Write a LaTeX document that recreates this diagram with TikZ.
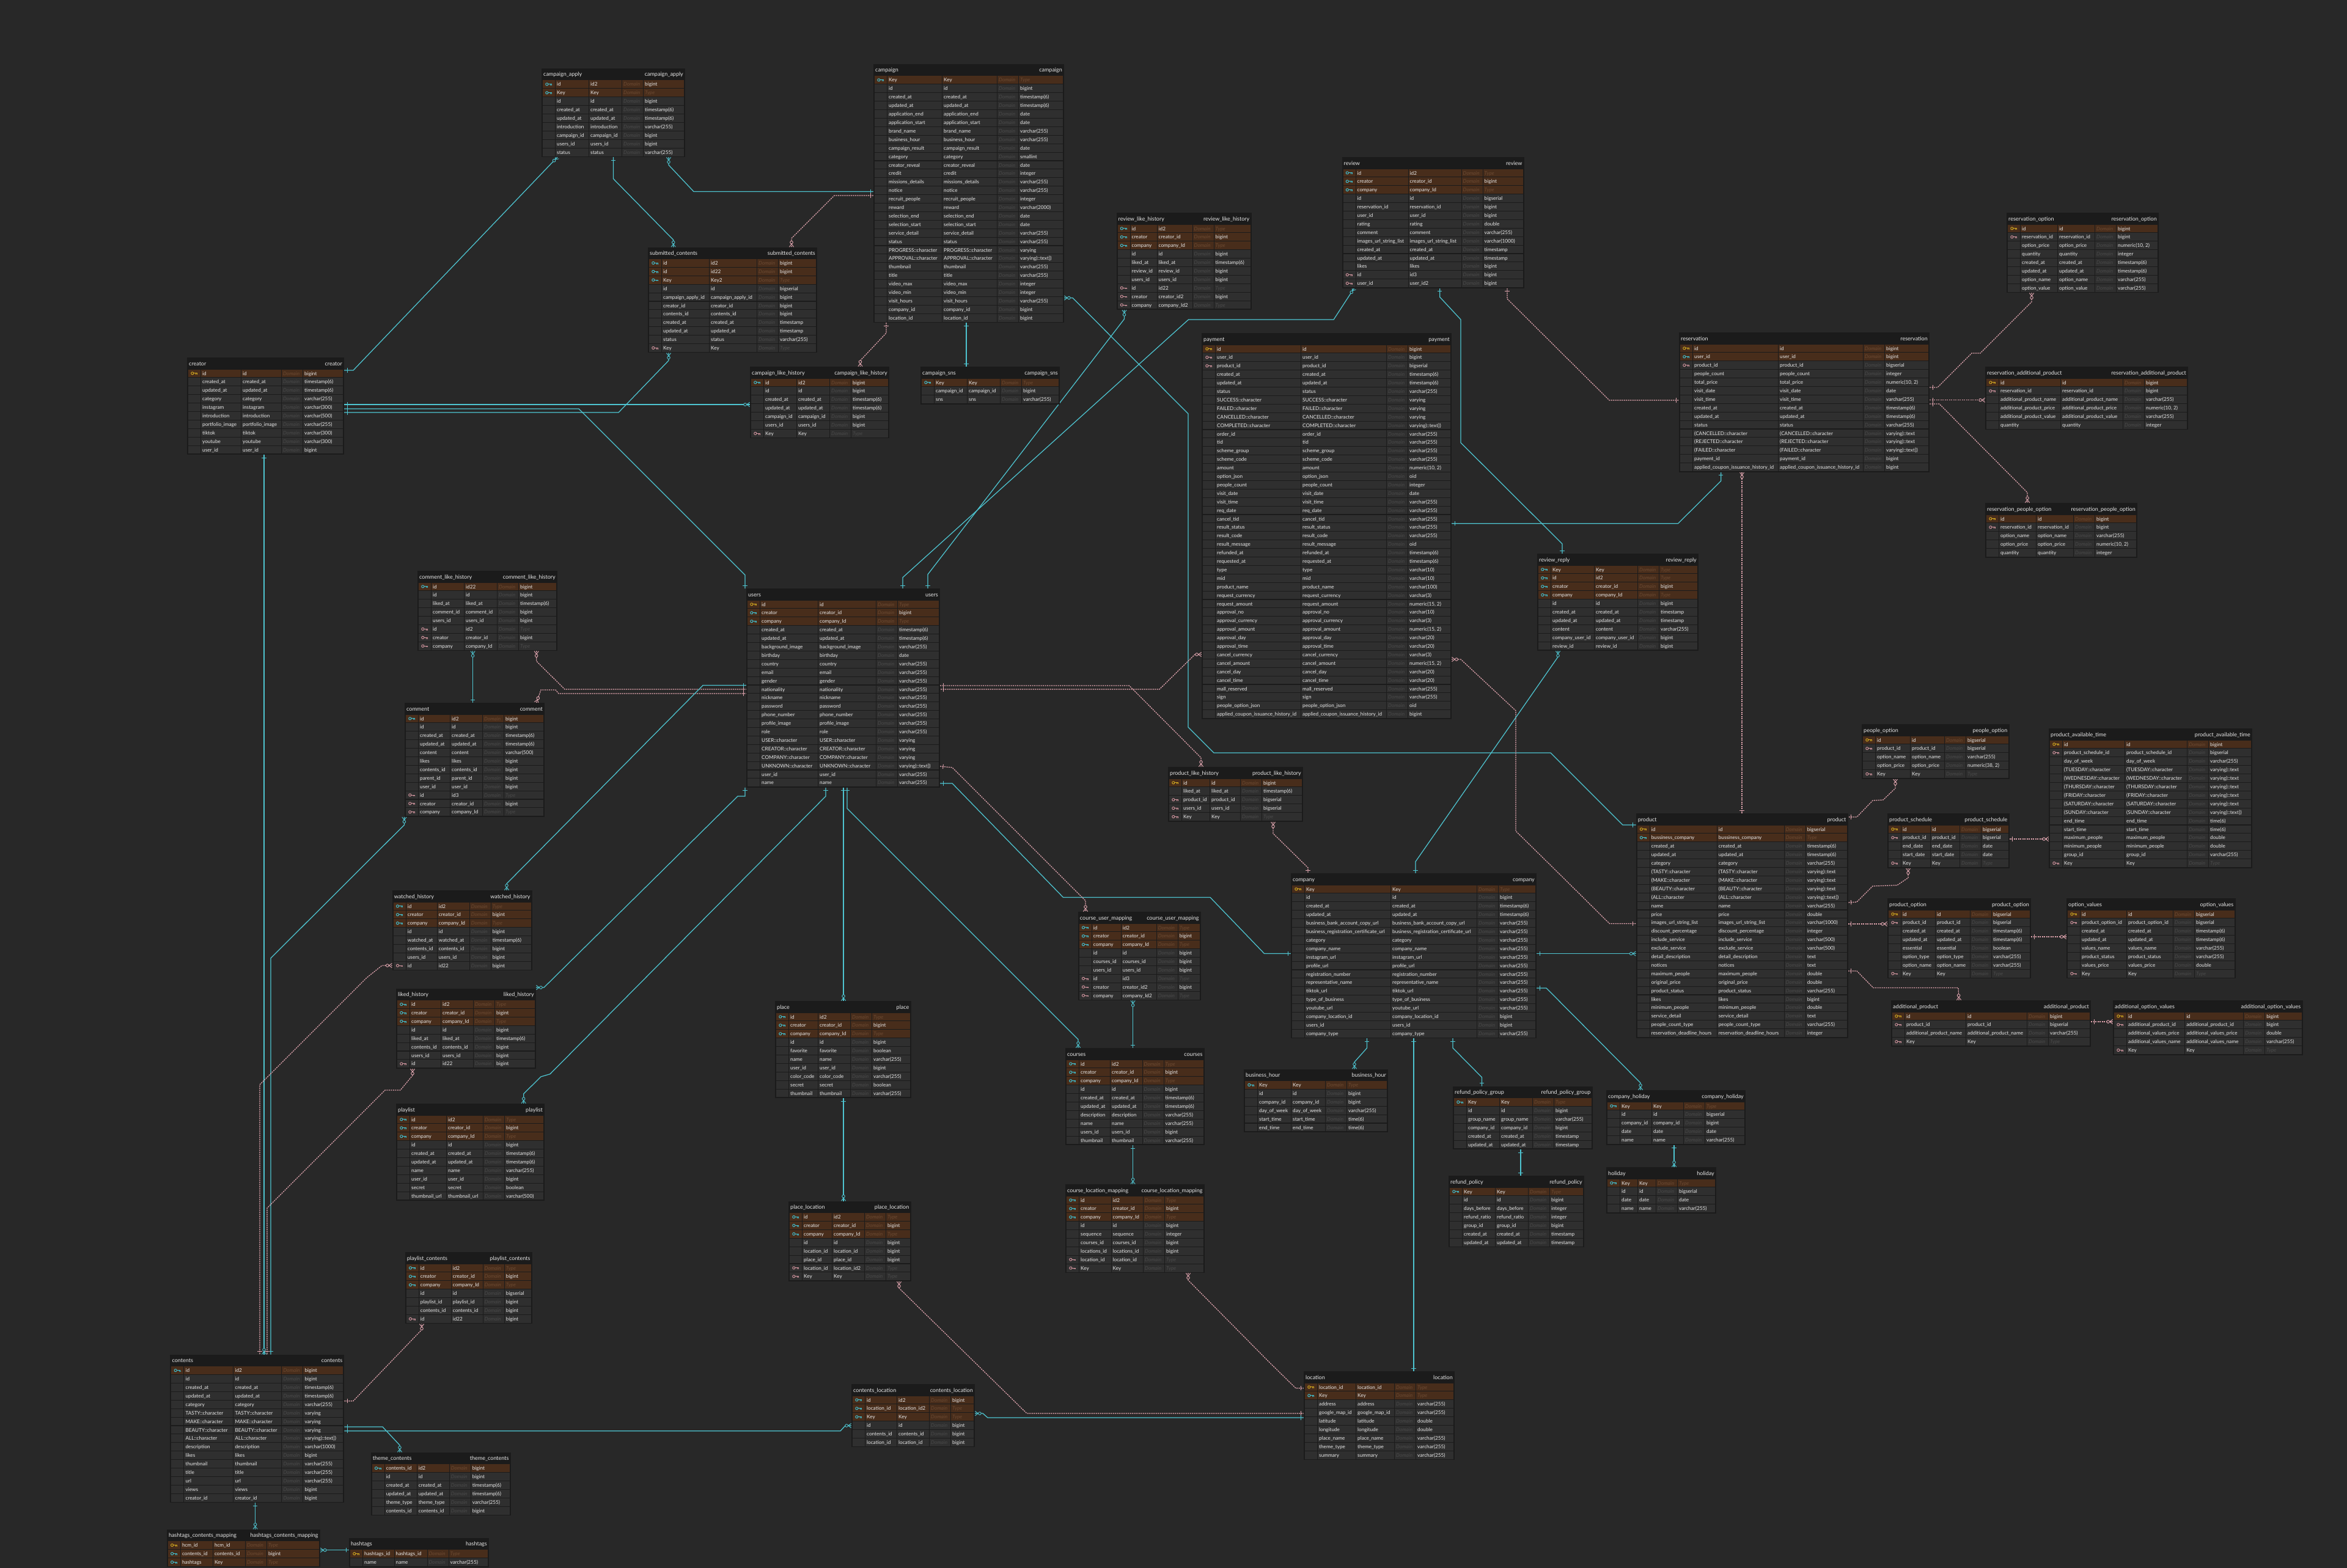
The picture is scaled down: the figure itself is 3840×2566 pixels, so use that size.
\documentclass[tikz,border=0pt]{standalone}
\usepackage{fontspec}
\setmainfont{Lato}
\usetikzlibrary{decorations.markings,calc}
\definecolor{bgcol}{RGB}{40,40,40}
\definecolor{framec}{RGB}{27,27,27}
\definecolor{cellc}{RGB}{47,47,47}
\definecolor{brownc}{RGB}{72,45,27}
\definecolor{txtc}{RGB}{232,232,232}
\definecolor{domg}{RGB}{74,74,74}
\definecolor{domb}{RGB}{108,74,50}
\definecolor{cyanl}{RGB}{78,196,208}
\definecolor{pinkl}{RGB}{226,166,176}
\definecolor{keyy}{RGB}{214,172,32}
\definecolor{keyc}{RGB}{64,196,214}
\definecolor{keyp}{RGB}{212,150,160}
\catcode`\_=12
\pgfdeclarelayer{bg}
\pgfsetlayers{bg,main}
\newcommand\rowfont{\fontsize{8.2}{9}\selectfont}
\newcommand\hdrfont{\fontsize{9}{10}\selectfont}
\def\rbgy{brownc}\def\rbgc{brownc}\def\rbgp{cellc}\def\rbgn{cellc}
\def\domy{domb}\def\domc{domb}\def\domp{domg}\def\domn{domg}
\def\dashmark{-}
\newcount\rowc
\tikzset{
  tframe/.style={fill=framec, draw=none, inner sep=0pt, outer sep=0pt},
  rt/.style={text=txtc, font=\rowfont, inner sep=0pt, anchor=base west},
  hd/.style={text=txtc, font=\hdrfont, inner sep=0pt},
  dt/.style={font=\rowfont\itshape, inner sep=0pt, anchor=base west},
  cyl/.style={color=cyanl, line width=1.25pt},
  pkl/.style={color=pinkl, line width=1.25pt, dash pattern=on 2.2pt off 1.3pt},
  oE/.style={postaction={decorate,decoration={markings,mark=at position -5pt with {\draw[solid,line width=1pt] (0,-3.6pt)--(0,3.6pt);}}}},
  oS/.style={postaction={decorate,decoration={markings,mark=at position 5pt with {\draw[solid,line width=1pt] (0,-3.6pt)--(0,3.6pt);}}}},
  mE/.style={postaction={decorate,decoration={markings,mark=at position -0.3pt with {\draw[solid,line width=0.9pt] (-5pt,0)--(0,3.6pt) (-5pt,0)--(0,-3.6pt); \draw[solid,line width=0.9pt,fill=bgcol] (-7.6pt,0) circle (2.3pt);}}}},
  mS/.style={postaction={decorate,decoration={markings,mark=at position 0.3pt with {\draw[solid,line width=0.9pt] (5pt,0)--(0,3.6pt) (5pt,0)--(0,-3.6pt); \draw[solid,line width=0.9pt,fill=bgcol] (7.6pt,0) circle (2.3pt);}}}},
}
\newcommand\keyicon[3]{%
  \draw[#1, line width=0.9pt] ({#2-3.2},#3) circle (2.1);
  \draw[#1, line width=0.9pt] ({#2-1.1},#3) -- ({#2+5},#3) ({#2+2.6},#3) -- ({#2+2.6},{#3+2.2}) ({#2+4.6},#3) -- ({#2+4.6},{#3+2.2});}
% #1 name, #2 id, #3 x, #4 y, #5 W, #6 wa, #7 wb, #8 rows
\newcommand\Tbl[8]{%
  \gdef\TID{#2}\gdef\TX{#3}\gdef\TY{#4}%
  \pgfmathsetmacro\TH{20+#8*13.9}%
  \pgfmathsetmacro\Ca{#3+23}%
  \pgfmathsetmacro\Cb{\Ca+#6+1}%
  \pgfmathsetmacro\Cc{\Cb+#7+1}%
  \pgfmathsetmacro\Cd{\Cc+35}%
  \pgfmathsetmacro\Ce{#3+#5-2}%
  \gdef\Wa{#6}\gdef\Wb{#7}%
  \global\rowc=0
  \node[tframe, minimum width=#5, minimum height=\TH, anchor=north west] (#2) at (#3,#4) {};
  \node[hd, anchor=base west] (#2-hl) at (#3+3,#4+13) {#1};
  \node[hd, anchor=base east] (#2-hr) at (#3+#5-3,#4+13) {#1};
}
\newcommand\R[4]{%
  \pgfmathsetmacro\RY{\TY+19.5+\the\rowc*13.9}%
  \pgfmathsetmacro\RB{\RY+12.8}%
  \pgfmathsetmacro\RM{\RY+6.4}%
  \pgfmathsetmacro\RL{\RY+9.5}%
  \edef\RC{\csname rbg#1\endcsname}%
  \edef\DC{\csname dom#1\endcsname}%
  \edef\nn{\TID-\the\rowc}%
  \fill[\RC] (\TX+2,\RY) rectangle (\TX+22,\RB);
  \fill[\RC] (\Ca,\RY) rectangle (\Ca+\Wa,\RB);
  \fill[\RC] (\Cb,\RY) rectangle (\Cb+\Wb,\RB);
  \fill[\RC] (\Cc,\RY) rectangle (\Cc+34,\RB);
  \fill[\RC] (\Cd,\RY) rectangle (\Ce,\RB);
  \if n#1\else\keyicon{key#1}{\TX+12}{\RM}\fi
  \node[rt] (\nn a) at (\Ca+2,\RL) {#2};
  \node[rt] (\nn b) at (\Cb+2,\RL) {#3};
  \node[dt, text=\DC] (\nn d) at (\Cc+2,\RL) {Domain};
  \def\tmpT{#4}%
  \ifx\tmpT\dashmark
    \node[dt, text=\DC] (\nn t) at (\Cd+2,\RL) {Type};
  \else
    \node[rt] (\nn t) at (\Cd+2,\RL) {#4};
  \fi
  \global\advance\rowc by 1
}
\newcommand\RR[3]{\R{#1}{#2}{#2}{#3}}
\begin{document}
\begin{tikzpicture}[x=1pt,y=-1pt]
\begin{pgfonlayer}{bg}
\fill[bgcol] (0,0) rectangle (3840,2566);
\end{pgfonlayer}
\useasboundingbox (0,0) rectangle (3840,2566);

% ---------- campaign_apply
\Tbl{campaign_apply}{ca}{886}{112}{235}{54}{53}{9}
\R{c}{id}{id2}{bigint}
\R{c}{Key}{Key}{-}
\RR{n}{id}{bigint}
\RR{n}{created_at}{timestamp(6)}
\RR{n}{updated_at}{timestamp(6)}
\RR{n}{introduction}{varchar(255)}
\RR{n}{campaign_id}{bigint}
\RR{n}{users_id}{bigint}
\RR{n}{status}{varchar(255)}
% ---------- campaign
\Tbl{campaign}{cp}{1429}{105}{312}{89}{89}{29}
\RR{c}{Key}{-}
\RR{n}{id}{bigint}
\RR{n}{created_at}{timestamp(6)}
\RR{n}{updated_at}{timestamp(6)}
\RR{n}{application_end}{date}
\RR{n}{application_start}{date}
\RR{n}{brand_name}{varchar(255)}
\RR{n}{business_hour}{varchar(255)}
\RR{n}{campaign_result}{date}
\RR{n}{category}{smallint}
\RR{n}{creator_reveal}{date}
\RR{n}{credit}{integer}
\RR{n}{missions_details}{varchar(255)}
\RR{n}{notice}{varchar(255)}
\RR{n}{recruit_people}{integer}
\RR{n}{reward}{varchar(2000)}
\RR{n}{selection_end}{date}
\RR{n}{selection_start}{date}
\RR{n}{service_detail}{varchar(255)}
\RR{n}{status}{varchar(255)}
\RR{n}{PROGRESS::character}{varying}
\RR{n}{APPROVAL::character}{varying)::text])}
\RR{n}{thumbnail}{varchar(255)}
\RR{n}{title}{varchar(255)}
\RR{n}{video_max}{integer}
\RR{n}{video_min}{integer}
\RR{n}{visit_hours}{varchar(255)}
\RR{n}{company_id}{bigint}
\RR{n}{location_id}{bigint}
% ---------- submitted_contents
\Tbl{submitted_contents}{sc}{1060}{404.5}{277}{77}{77}{11}
\R{c}{id}{id2}{bigint}
\R{c}{id}{id22}{bigint}
\R{c}{Key}{Key2}{-}
\RR{n}{id}{bigserial}
\RR{n}{campaign_apply_id}{bigint}
\RR{n}{creator_id}{bigint}
\RR{n}{contents_id}{bigint}
\RR{n}{created_at}{timestamp}
\RR{n}{updated_at}{timestamp}
\RR{n}{status}{varchar(255)}
\RR{p}{Key}{-}
% ---------- campaign_like_history
\Tbl{campaign_like_history}{clh}{1227}{600}{228}{53}{53}{7}
\R{c}{id}{id2}{bigint}
\RR{n}{id}{bigint}
\RR{n}{created_at}{timestamp(6)}
\RR{n}{updated_at}{timestamp(6)}
\RR{n}{campaign_id}{bigint}
\RR{n}{users_id}{bigint}
\RR{p}{Key}{-}
% ---------- campaign_sns
\Tbl{campaign_sns}{cs}{1506}{600}{228}{53}{53}{3}
\RR{c}{Key}{-}
\RR{n}{campaign_id}{bigint}
\RR{n}{sns}{varchar(255)}
% ---------- review_like_history
\Tbl{review_like_history}{rlh}{1826.5}{348}{221}{43}{57}{10}
\R{c}{id}{id2}{-}
\R{c}{creator}{creator_id}{bigint}
\R{c}{company}{company_Id}{-}
\RR{n}{id}{bigint}
\RR{n}{liked_at}{timestamp(6)}
\RR{n}{review_id}{bigint}
\RR{n}{users_id}{bigint}
\R{p}{id}{id22}{-}
\R{p}{creator}{creator_id2}{bigint}
\R{p}{company}{company_Id2}{-}
% ---------- review
\Tbl{review}{rv}{2195.5}{257}{298}{85}{86}{14}
\R{c}{id}{id2}{-}
\R{c}{creator}{creator_id}{bigint}
\R{c}{company}{company_Id}{-}
\RR{n}{id}{bigserial}
\RR{n}{reservation_id}{bigint}
\RR{n}{user_id}{bigint}
\RR{n}{rating}{double}
\RR{n}{comment}{varchar(255)}
\RR{n}{images_url_string_list}{varchar(1000)}
\RR{n}{created_at}{timestamp}
\RR{n}{updated_at}{timestamp}
\RR{n}{likes}{bigint}
\R{p}{id}{id3}{bigint}
\R{p}{user_id}{user_id2}{bigint}
% ---------- payment
\Tbl{payment}{pay}{1966}{545}{409}{139}{139}{44}
\RR{y}{id}{bigint}
\RR{p}{user_id}{bigint}
\RR{p}{product_id}{bigserial}
\RR{n}{created_at}{timestamp(6)}
\RR{n}{updated_at}{timestamp(6)}
\RR{n}{status}{varchar(255)}
\RR{n}{SUCCESS::character}{varying}
\RR{n}{FAILED::character}{varying}
\RR{n}{CANCELLED::character}{varying}
\RR{n}{COMPLETED::character}{varying)::text])}
\RR{n}{order_id}{varchar(255)}
\RR{n}{tid}{varchar(255)}
\RR{n}{scheme_group}{varchar(255)}
\RR{n}{scheme_code}{varchar(255)}
\RR{n}{amount}{numeric(10, 2)}
\RR{n}{option_json}{oid}
\RR{n}{people_count}{integer}
\RR{n}{visit_date}{date}
\RR{n}{visit_time}{varchar(255)}
\RR{n}{req_date}{varchar(255)}
\RR{n}{cancel_tid}{varchar(255)}
\RR{n}{result_status}{varchar(255)}
\RR{n}{result_code}{varchar(255)}
\RR{n}{result_message}{oid}
\RR{n}{refunded_at}{timestamp(6)}
\RR{n}{requested_at}{timestamp(6)}
\RR{n}{type}{varchar(10)}
\RR{n}{mid}{varchar(10)}
\RR{n}{product_name}{varchar(100)}
\RR{n}{request_currency}{varchar(3)}
\RR{n}{request_amount}{numeric(15, 2)}
\RR{n}{approval_no}{varchar(10)}
\RR{n}{approval_currency}{varchar(3)}
\RR{n}{approval_amount}{numeric(15, 2)}
\RR{n}{approval_day}{varchar(20)}
\RR{n}{approval_time}{varchar(20)}
\RR{n}{cancel_currency}{varchar(3)}
\RR{n}{cancel_amount}{numeric(15, 2)}
\RR{n}{cancel_day}{varchar(20)}
\RR{n}{cancel_time}{varchar(20)}
\RR{n}{mall_reserved}{varchar(255)}
\RR{n}{sign}{varchar(255)}
\RR{n}{people_option_json}{oid}
\RR{n}{applied_coupon_issuance_history_id}{bigint}
% ---------- reservation_option
\Tbl{reservation_option}{ro}{3283}{348}{249}{60}{60}{8}
\RR{y}{id}{bigint}
\RR{p}{reservation_id}{bigint}
\RR{n}{option_price}{numeric(10, 2)}
\RR{n}{quantity}{integer}
\RR{n}{created_at}{timestamp(6)}
\RR{n}{updated_at}{timestamp(6)}
\RR{n}{option_name}{varchar(255)}
\RR{n}{option_value}{varchar(255)}
% ---------- reservation
\Tbl{reservation}{res}{2747}{544}{410}{139}{138}{15}
\RR{y}{id}{bigint}
\RR{c}{user_id}{bigint}
\RR{p}{product_id}{bigserial}
\RR{n}{people_count}{integer}
\RR{n}{total_price}{numeric(10, 2)}
\RR{n}{visit_date}{date}
\RR{n}{visit_time}{varchar(255)}
\RR{n}{created_at}{timestamp(6)}
\RR{n}{updated_at}{timestamp(6)}
\RR{n}{status}{varchar(255)}
\RR{n}{(CANCELLED::character}{varying)::text}
\RR{n}{(REJECTED::character}{varying)::text}
\RR{n}{(FAILED::character}{varying)::text])}
\RR{n}{payment_id}{bigint}
\RR{n}{applied_coupon_issuance_history_id}{bigint}
% ---------- reservation_additional_product
\Tbl{reservation_additional_product}{rap}{3248}{600}{332}{100}{101}{6}
\RR{y}{id}{bigint}
\RR{p}{reservation_id}{bigint}
\RR{n}{additional_product_name}{varchar(255)}
\RR{n}{additional_product_price}{numeric(10, 2)}
\RR{n}{additional_product_value}{varchar(255)}
\RR{n}{quantity}{integer}
% ---------- reservation_people_option
\Tbl{reservation_people_option}{rpo}{3248}{823}{249}{60}{60}{5}
\RR{y}{id}{bigint}
\RR{p}{reservation_id}{bigint}
\RR{n}{option_name}{varchar(255)}
\RR{n}{option_price}{numeric(10, 2)}
\RR{n}{quantity}{integer}
% ---------- review_reply
\Tbl{review_reply}{rr}{2515}{906}{264}{70}{70}{10}
\RR{c}{Key}{-}
\R{c}{id}{id2}{-}
\R{c}{creator}{creator_id}{bigint}
\R{c}{company}{company_Id}{-}
\RR{n}{id}{bigint}
\RR{n}{created_at}{timestamp}
\RR{n}{updated_at}{timestamp}
\RR{n}{content}{varchar(255)}
\RR{n}{company_user_id}{bigint}
\RR{n}{review_id}{bigint}
% ---------- creator
\Tbl{creator}{cr}{306}{585}{257}{65}{65}{10}
\RR{y}{id}{bigint}
\RR{n}{created_at}{timestamp(6)}
\RR{n}{updated_at}{timestamp(6)}
\RR{n}{category}{varchar(255)}
\RR{n}{instagram}{varchar(300)}
\RR{n}{introduction}{varchar(500)}
\RR{n}{portfolio_image}{varchar(255)}
\RR{n}{tiktok}{varchar(300)}
\RR{n}{youtube}{varchar(300)}
\RR{n}{user_id}{bigint}
% ---------- comment_like_history
\Tbl{comment_like_history}{cmlh}{683}{934}{229}{53}{53}{8}
\R{c}{id}{id22}{bigint}
\RR{n}{id}{bigint}
\RR{n}{liked_at}{timestamp(6)}
\RR{n}{comment_id}{bigint}
\RR{n}{users_id}{bigint}
\R{p}{id}{id2}{-}
\R{p}{creator}{creator_id}{bigint}
\R{p}{company}{company_Id}{-}
% ---------- comment
\Tbl{comment}{cm}{662}{1150}{229}{51}{52}{12}
\R{c}{id}{id2}{bigint}
\RR{n}{id}{bigint}
\RR{n}{created_at}{timestamp(6)}
\RR{n}{updated_at}{timestamp(6)}
\RR{n}{content}{varchar(500)}
\RR{n}{likes}{bigint}
\RR{n}{contents_id}{bigint}
\RR{n}{parent_id}{bigint}
\RR{n}{user_id}{bigint}
\R{p}{id}{id3}{-}
\R{p}{creator}{creator_id}{bigint}
\R{p}{company}{company_Id}{-}
% ---------- users
\Tbl{users}{us}{1221}{963}{317}{94}{94}{22}
\RR{y}{id}{-}
\R{c}{creator}{creator_id}{bigint}
\R{c}{company}{company_Id}{-}
\RR{n}{created_at}{timestamp(6)}
\RR{n}{updated_at}{timestamp(6)}
\RR{n}{background_image}{varchar(255)}
\RR{n}{birthday}{date}
\RR{n}{country}{varchar(255)}
\RR{n}{email}{varchar(255)}
\RR{n}{gender}{varchar(255)}
\RR{n}{nationality}{varchar(255)}
\RR{n}{nickname}{varchar(255)}
\RR{n}{password}{varchar(255)}
\RR{n}{phone_number}{varchar(255)}
\RR{n}{profile_image}{varchar(255)}
\RR{n}{role}{varchar(255)}
\RR{n}{USER::character}{varying}
\RR{n}{CREATOR::character}{varying}
\RR{n}{COMPANY::character}{varying}
\RR{n}{UNKNOWN::character}{varying)::text])}
\RR{n}{user_id}{varchar(255)}
\RR{n}{name}{varchar(255)}
% ---------- people_option
\Tbl{people_option}{po}{3046}{1185}{241.5}{56}{55}{5}
\RR{y}{id}{bigserial}
\RR{p}{product_id}{bigserial}
\RR{n}{option_name}{varchar(255)}
\RR{n}{option_price}{numeric(38, 2)}
\RR{p}{Key}{-}
% ---------- product_available_time
\Tbl{product_available_time}{pat}{3352}{1192}{333}{101}{101}{15}
\RR{y}{id}{bigint}
\RR{p}{product_schedule_id}{bigserial}
\RR{n}{day_of_week}{varchar(255)}
\RR{n}{(TUESDAY::character}{varying)::text}
\RR{n}{(WEDNESDAY::character}{varying)::text}
\RR{n}{(THURSDAY::character}{varying)::text}
\RR{n}{(FRIDAY::character}{varying)::text}
\RR{n}{(SATURDAY::character}{varying)::text}
\RR{n}{(SUNDAY::character}{varying)::text])}
\RR{n}{end_time}{time(6)}
\RR{n}{start_time}{time(6)}
\RR{n}{maximum_people}{double}
\RR{n}{minimum_people}{double}
\RR{n}{group_id}{varchar(255)}
\RR{p}{Key}{-}
% ---------- product_like_history
\Tbl{product_like_history}{plh}{1911}{1255}{221}{45}{49}{5}
\RR{y}{id}{bigint}
\RR{n}{liked_at}{timestamp(6)}
\RR{p}{product_id}{bigserial}
\RR{p}{users_id}{bigserial}
\RR{p}{Key}{-}
% ---------- product
\Tbl{product}{pr}{2676.6}{1331}{347}{109}{109}{25}
\RR{y}{id}{bigserial}
\RR{c}{bussiness_company}{-}
\RR{n}{created_at}{timestamp(6)}
\RR{n}{updated_at}{timestamp(6)}
\RR{n}{category}{varchar(255)}
\RR{n}{(TASTY::character}{varying)::text}
\RR{n}{(MAKE::character}{varying)::text}
\RR{n}{(BEAUTY::character}{varying)::text}
\RR{n}{(ALL::character}{varying)::text])}
\RR{n}{name}{varchar(255)}
\RR{n}{price}{double}
\RR{n}{images_url_string_list}{varchar(1000)}
\RR{n}{discount_percentage}{integer}
\RR{n}{include_service}{varchar(500)}
\RR{n}{exclude_service}{varchar(500)}
\RR{n}{detail_description}{text}
\RR{n}{notices}{text}
\RR{n}{maximum_people}{double}
\RR{n}{original_price}{double}
\RR{n}{product_status}{varchar(255)}
\RR{n}{likes}{bigint}
\RR{n}{minimum_people}{double}
\RR{n}{service_detail}{text}
\RR{n}{people_count_type}{varchar(255)}
\RR{n}{reservation_deadline_hours}{integer}
% ---------- product_schedule
\Tbl{product_schedule}{ps}{3088}{1331}{199.5}{47}{47}{5}
\RR{y}{id}{bigserial}
\RR{p}{product_id}{bigserial}
\RR{n}{end_date}{date}
\RR{n}{start_date}{date}
\RR{p}{Key}{-}
% ---------- product_option
\Tbl{product_option}{pop}{3088}{1470}{235}{55}{56}{8}
\RR{y}{id}{bigserial}
\RR{p}{product_id}{bigserial}
\RR{n}{created_at}{timestamp(6)}
\RR{n}{updated_at}{timestamp(6)}
\RR{n}{essential}{boolean}
\RR{n}{option_type}{varchar(255)}
\RR{n}{option_name}{varchar(255)}
\RR{p}{Key}{-}
% ---------- option_values
\Tbl{option_values}{ov}{3381}{1470}{276.5}{75}{75}{8}
\RR{y}{id}{bigserial}
\RR{p}{product_option_id}{bigserial}
\RR{n}{created_at}{timestamp(6)}
\RR{n}{updated_at}{timestamp(6)}
\RR{n}{values_name}{varchar(255)}
\RR{n}{product_status}{varchar(255)}
\RR{n}{values_price}{double}
\RR{p}{Key}{-}
% ---------- additional_product
\Tbl{additional_product}{ap}{3094}{1637}{327}{99}{99}{4}
\RR{y}{id}{bigint}
\RR{p}{product_id}{bigserial}
\RR{n}{additional_product_name}{varchar(255)}
\RR{p}{Key}{-}
% ---------- additional_option_values
\Tbl{additional_option_values}{aov}{3457}{1637}{310.5}{94}{95}{5}
\RR{y}{id}{bigint}
\RR{p}{additional_product_id}{bigint}
\RR{n}{additional_values_price}{double}
\RR{n}{additional_values_name}{varchar(255)}
\RR{p}{Key}{-}
% ---------- company
\Tbl{company}{co}{2112}{1429}{402}{140}{140}{18}
\RR{y}{Key}{-}
\RR{n}{id}{bigint}
\RR{n}{created_at}{timestamp(6)}
\RR{n}{updated_at}{timestamp(6)}
\RR{n}{business_bank_account_copy_url}{varchar(255)}
\RR{n}{business_registration_certificate_url}{varchar(255)}
\RR{n}{category}{varchar(255)}
\RR{n}{company_name}{varchar(255)}
\RR{n}{instagram_url}{varchar(255)}
\RR{n}{profile_url}{varchar(255)}
\RR{n}{registration_number}{varchar(255)}
\RR{n}{representative_name}{varchar(255)}
\RR{n}{tiktok_url}{varchar(255)}
\RR{n}{type_of_business}{varchar(255)}
\RR{n}{youtube_url}{varchar(255)}
\RR{n}{company_location_id}{bigint}
\RR{n}{users_id}{bigint}
\RR{n}{company_type}{varchar(255)}
% ---------- business_hour
\Tbl{business_hour}{bh}{2035}{1749.5}{236}{54}{55}{6}
\RR{c}{Key}{-}
\RR{n}{id}{bigint}
\RR{n}{company_id}{bigint}
\RR{n}{day_of_week}{varchar(255)}
\RR{n}{start_time}{time(6)}
\RR{n}{end_time}{time(6)}
% ---------- refund_policy_group
\Tbl{refund_policy_group}{rpg}{2377}{1777.6}{228.5}{53}{53}{6}
\RR{c}{Key}{-}
\RR{n}{id}{bigint}
\RR{n}{group_name}{varchar(255)}
\RR{n}{company_id}{bigint}
\RR{n}{created_at}{timestamp}
\RR{n}{updated_at}{timestamp}
% ---------- company_holiday
\Tbl{company_holiday}{ch}{2628}{1784}{228}{51}{51}{5}
\RR{c}{Key}{-}
\RR{n}{id}{bigserial}
\RR{n}{company_id}{bigint}
\RR{n}{date}{date}
\RR{n}{name}{varchar(255)}
% ---------- holiday
\Tbl{holiday}{hol}{2628}{1910}{180}{28}{29}{4}
\RR{c}{Key}{-}
\RR{n}{id}{bigserial}
\RR{n}{date}{date}
\RR{n}{name}{varchar(255)}
% ---------- refund_policy
\Tbl{refund_policy}{rp}{2370}{1924}{222}{53}{53}{7}
\RR{c}{Key}{-}
\RR{n}{id}{bigint}
\RR{n}{days_before}{integer}
\RR{n}{refund_ratio}{integer}
\RR{n}{group_id}{bigint}
\RR{n}{created_at}{timestamp}
\RR{n}{updated_at}{timestamp}
% ---------- watched_history
\Tbl{watched_history}{wh}{641.7}{1457}{229}{50}{52}{8}
\R{c}{id}{id2}{-}
\R{c}{creator}{creator_id}{bigint}
\R{c}{company}{company_Id}{-}
\RR{n}{id}{bigint}
\RR{n}{watched_at}{timestamp(6)}
\RR{n}{contents_id}{bigint}
\RR{n}{users_id}{bigint}
\R{p}{id}{id22}{bigint}
% ---------- liked_history
\Tbl{liked_history}{lh}{648}{1617.6}{229}{50}{52}{8}
\R{c}{id}{id2}{-}
\R{c}{creator}{creator_id}{bigint}
\R{c}{company}{company_Id}{-}
\RR{n}{id}{bigint}
\RR{n}{liked_at}{timestamp(6)}
\RR{n}{contents_id}{bigint}
\RR{n}{users_id}{bigint}
\R{p}{id}{id22}{bigint}
% ---------- playlist
\Tbl{playlist}{pls}{648}{1806}{243}{59}{59}{10}
\R{c}{id}{id2}{-}
\R{c}{creator}{creator_id}{bigint}
\R{c}{company}{company_Id}{-}
\RR{n}{id}{bigint}
\RR{n}{created_at}{timestamp(6)}
\RR{n}{updated_at}{timestamp(6)}
\RR{n}{name}{varchar(255)}
\RR{n}{user_id}{bigint}
\RR{n}{secret}{boolean}
\RR{n}{thumbnail_url}{varchar(500)}
% ---------- playlist_contents
\Tbl{playlist_contents}{plc}{662.7}{2049}{208}{52}{51}{7}
\R{c}{id}{id2}{-}
\R{c}{creator}{creator_id}{bigint}
\R{c}{company}{company_Id}{-}
\RR{n}{id}{bigserial}
\RR{n}{playlist_id}{bigint}
\RR{n}{contents_id}{bigint}
\R{p}{id}{id22}{bigint}
% ---------- course_user_mapping
\Tbl{course_user_mapping}{cum}{1763.7}{1492}{201}{47}{57}{9}
\R{c}{id}{id2}{-}
\R{c}{creator}{creator_id}{bigint}
\R{c}{company}{company_Id}{-}
\RR{n}{id}{bigint}
\RR{n}{courses_id}{bigint}
\RR{n}{users_id}{bigint}
\R{p}{id}{id3}{-}
\R{p}{creator}{creator_id2}{bigint}
\R{p}{company}{company_Id2}{-}
% ---------- place
\Tbl{place}{pl}{1268}{1638}{222.5}{47}{52}{10}
\R{c}{id}{id2}{-}
\R{c}{creator}{creator_id}{bigint}
\R{c}{company}{company_Id}{-}
\RR{n}{id}{bigint}
\RR{n}{favorite}{boolean}
\RR{n}{name}{varchar(255)}
\RR{n}{user_id}{bigint}
\RR{n}{color_code}{varchar(255)}
\RR{n}{secret}{boolean}
\RR{n}{thumbnail}{varchar(255)}
% ---------- courses
\Tbl{courses}{crs}{1743}{1715}{227.7}{50}{51.5}{10}
\R{c}{id}{id2}{-}
\R{c}{creator}{creator_id}{bigint}
\R{c}{company}{company_Id}{-}
\RR{n}{id}{bigint}
\RR{n}{created_at}{timestamp(6)}
\RR{n}{updated_at}{timestamp(6)}
\RR{n}{description}{varchar(255)}
\RR{n}{name}{varchar(255)}
\RR{n}{users_id}{bigint}
\RR{n}{thumbnail}{varchar(255)}
% ---------- place_location
\Tbl{place_location}{plo}{1290}{1965.6}{200.5}{48}{52}{8}
\R{c}{id}{id2}{-}
\R{c}{creator}{creator_id}{bigint}
\R{c}{company}{company_Id}{-}
\RR{n}{id}{bigint}
\RR{n}{location_id}{bigint}
\RR{n}{place_id}{bigint}
\R{p}{location_id}{location_id2}{-}
\RR{p}{Key}{-}
% ---------- course_location_mapping
\Tbl{course_location_mapping}{clm}{1743}{1938}{227.7}{51.5}{51.5}{9}
\R{c}{id}{id2}{-}
\R{c}{creator}{creator_id}{bigint}
\R{c}{company}{company_Id}{-}
\RR{n}{id}{bigint}
\RR{n}{sequence}{integer}
\RR{n}{courses_id}{bigint}
\RR{n}{locations_id}{bigint}
\RR{p}{location_id}{-}
\RR{p}{Key}{-}
% ---------- contents
\Tbl{contents}{ct}{278.4}{2216.7}{285}{80}{78}{16}
\R{c}{id}{id2}{bigint}
\RR{n}{id}{bigint}
\RR{n}{created_at}{timestamp(6)}
\RR{n}{updated_at}{timestamp(6)}
\RR{n}{category}{varchar(255)}
\RR{n}{TASTY::character}{varying}
\RR{n}{MAKE::character}{varying}
\RR{n}{BEAUTY::character}{varying}
\RR{n}{ALL::character}{varying)::text])}
\RR{n}{description}{varchar(1000)}
\RR{n}{likes}{bigint}
\RR{n}{thumbnail}{varchar(255)}
\RR{n}{title}{varchar(255)}
\RR{n}{url}{varchar(255)}
\RR{n}{views}{bigint}
\RR{n}{creator_id}{bigint}
% ---------- theme_contents
\Tbl{theme_contents}{tc}{606.7}{2376.7}{229}{52}{52}{6}
\R{c}{contents_id}{id2}{bigint}
\RR{n}{id}{bigint}
\RR{n}{created_at}{timestamp(6)}
\RR{n}{updated_at}{timestamp(6)}
\RR{n}{theme_type}{varchar(255)}
\RR{n}{contents_id}{bigint}
% ---------- hashtags_contents_mapping
\Tbl{hashtags_contents_mapping}{hcm}{272.8}{2502.7}{251}{52}{52}{3}
\RR{y}{hcm_id}{-}
\RR{c}{contents_id}{bigint}
\R{c}{hashtags}{Key}{-}
% ---------- hashtags
\Tbl{hashtags}{ht}{571}{2516.7}{229}{50.5}{53}{2}
\RR{y}{hashtags_id}{-}
\RR{n}{name}{varchar(255)}
% ---------- contents_location
\Tbl{contents_location}{ctl}{1393}{2265}{202}{51}{52}{6}
\R{c}{id}{id2}{bigint}
\R{c}{location_id}{location_id2}{-}
\RR{c}{Key}{-}
\RR{n}{id}{bigint}
\RR{n}{contents_id}{bigint}
\RR{n}{location_id}{bigint}
% ---------- location
\Tbl{location}{loc}{2133}{2244}{247}{62}{62}{9}
\RR{y}{location_id}{-}
\RR{c}{Key}{-}
\RR{n}{address}{varchar(255)}
\RR{n}{google_map_id}{varchar(255)}
\RR{n}{latitude}{double}
\RR{n}{longitude}{double}
\RR{n}{place_name}{varchar(255)}
\RR{n}{theme_type}{varchar(255)}
\RR{n}{summary}{varchar(255)}

% ================= connectors
\begin{pgfonlayer}{bg}
\draw[cyl,mS,oE] (912,0 |- ca.south) -- (578,606) -- (cr.east |- 0,606);
\draw[cyl,oS,mE] (1003.5,0 |- ca.south) -- (1003.5,292.6) -- (1101.7,392.6) -- (1101.7,0 |- sc.north);
\draw[cyl,mS,oE] (1094,0 |- ca.south) -- (1094,270) -- (1135,313.5) -- (cp.west |- 0,313.5);
\draw[pkl,oS,mE] (cp.west |- 0,320) -- (1365,320) -- (1295,390) -- (1295,0 |- sc.north);
\draw[cyl,mS,oE] (1094,0 |- sc.south) -- (1094,590) -- (1012,675) -- (cr.east |- 0,675);
\draw[cyl,mE,oS] (cr.east |- 0,662) -- (clh.west |- 0,662);
\draw[cyl,oS,oE] (cr.east |- 0,669) -- (947,669) -- (1219,941) -- (1219,0 |- us.north);
\draw[pkl,oS,mE] (1450,0 |- cp.south) -- (1450,545) -- (1407.5,590) -- (1407.5,0 |- clh.north);
\draw[cyl,oS,oE] (1581,0 |- cp.south) -- (1581,0 |- cs.north);
\draw[cyl,mS,oE] (cp.east |- 0,487.5) -- (1755,487.5) -- (1944,677) -- (1944,1190) -- (1986,1232) -- (2537,1232) -- (2655,1350) -- (pr.west |- 0,1350);
\draw[cyl,mS,oE] (1839.5,0 |- rlh.south) -- (1839.5,522) -- (1518,940) -- (1518,0 |- us.north);
\draw[cyl,mS,oE] (2215.5,0 |- rv.south) -- (2182,523) -- (1944.5,523) -- (1477,945) -- (1477,0 |- us.north);
\draw[cyl,oS,oE] (2355.6,0 |- rv.south) -- (2355.6,486) -- (2390,523) -- (2390,724.5) -- (2556,890) -- (2556,0 |- rr.north);
\draw[pkl,oS,oE] (2466,0 |- rv.south) -- (2466,489) -- (2633,655) -- (res.west |- 0,655);
\draw[cyl,oS,oE] (pay.east |- 0,856.7) -- (2745.5,856.7) -- (2815.7,787) -- (2815.7,0 |- res.south);
\draw[pkl,mS,oE] (2850,0 |- res.south) -- (2850,0 |- pr.north);
\draw[pkl,oS,mE] (res.east |- 0,634) -- (3170,634) -- (3226,578) -- (3240,578) -- (3324,494) -- (3324,0 |- ro.south);
\draw[pkl,oS,mE] (res.east |- 0,654.7) -- (rap.west |- 0,654.7);
\draw[pkl,oS,mE] (res.east |- 0,661) -- (3173,661) -- (3317,806) -- (3317,0 |- rpo.north);
\draw[pkl,mS,oE] (pay.west |- 0,1071) -- (1955,1071) -- (1897,1128) -- (us.east |- 0,1128);
\draw[pkl,mS,oE] (pay.east |- 0,1079) -- (2390,1079) -- (2480,1163) -- (2480,1360) -- (2541,1420) -- (2633.5,1511.6) -- (pr.west |- 0,1511.6);
\draw[cyl,oS,mE] (co.east |- 0,1560.6) -- (pr.west |- 0,1560.6);
\draw[cyl,oS,mE] (2236.5,0 |- co.south) -- (2236.5,1715) -- (2216,1738) -- (2216,0 |- bh.north);
\draw[cyl,oS,oE] (2313,0 |- co.south) -- (2313,0 |- loc.north);
\draw[cyl,oS,oE] (2377,0 |- co.south) -- (2377,1715) -- (2424.5,1763) -- (2424.5,0 |- rpg.north);
\draw[cyl,oS,mE] (co.east |- 0,1617) -- (2530,1617) -- (2684,1772) -- (2684,0 |- ch.north);
\draw[cyl,oS,oE] (2488,0 |- rpg.south) -- (2488,0 |- rp.north);
\draw[cyl,oS,mE] (2739,0 |- ch.south) -- (2739,0 |- hol.north);
\draw[pkl,mS,oE] (3101,0 |- po.south) -- (3101,1290) -- (3081,1309) -- (3064,1310) -- (3038,1337) -- (pr.east |- 0,1337);
\draw[pkl,oS,mE] (ps.east |- 0,1373) -- (pat.west |- 0,1373);
\draw[pkl,mS,oE] (3122,0 |- ps.south) -- (3122,1436.5) -- (3104,1448.6) -- (3064,1450) -- (3038,1476) -- (pr.east |- 0,1477);
\draw[pkl,oS,mE] (pr.east |- 0,1512) -- (pop.west |- 0,1512);
\draw[pkl,oS,mE] (pop.east |- 0,1533) -- (ov.west |- 0,1533);
\draw[pkl,oS,mE] (pr.east |- 0,1589) -- (3038,1589) -- (3065,1616.6) -- (3204,1616.6) -- (3205,0 |- ap.north);
\draw[pkl,oS,mE] (ap.east |- 0,1672) -- (aov.west |- 0,1672);
\draw[cyl,mS,oE] (2549,0 |- rr.south) -- (2549,1075) -- (2316,1410) -- (2316,0 |- co.north);
\draw[pkl,mS,oE] (2083,0 |- plh.south) -- (2083,1364) -- (2140,1420) -- (2140,0 |- co.north);
\draw[cyl,mS,oE] (1853.6,0 |- cum.south) -- (1853.6,0 |- crs.north);
\draw[cyl,oS,mE] (1853.6,0 |- crs.south) -- (1853.6,0 |- clm.north);
\draw[pkl,mS,oE] (1944,0 |- clm.south) -- (1944,2095) -- (2077.5,2230) -- (2120,2271.7) -- (loc.west |- 0,2271.7);
\draw[cyl,oS,mE] (1380,0 |- pl.south) -- (1380,0 |- plo.north);
\draw[pkl,mS,oE] (1471,0 |- plo.south) -- (1471,2108) -- (1680,2313) -- (loc.west |- 0,2313);
\draw[cyl,mS,oE] (ctl.east |- 0,2313) -- (1608,2313) -- (1616,2320) -- (loc.west |- 0,2320);
\draw[cyl,oS,mE] (ct.east |- 0,2341.7) -- (1375,2341.7) -- (1383,2333) -- (ctl.west |- 0,2333);
\draw[cyl,oS,mE] (ct.east |- 0,2335) -- (626,2335) -- (654,2365) -- (654,0 |- tc.north);
\draw[pkl,oS,mE] (ct.east |- 0,2292.6) -- (578,2292.6) -- (690,2176) -- (690,0 |- plc.south);
\draw[cyl,oS,mE] (417.6,0 |- ct.south) -- (417.6,0 |- hcm.north);
\draw[cyl,mS,oE] (hcm.east |- 0,2536.7) -- (ht.west |- 0,2536.7);
\draw[cyl,oS,mE] (432,0 |- cr.south) -- (432,0 |- ct.north);
\draw[cyl,mS,oE] (773.6,0 |- cmlh.south) -- (773.6,0 |- cm.north);
\draw[pkl,mS,oE] (877.7,0 |- cmlh.south) -- (877.7,1082) -- (924,1128) -- (us.west |- 0,1128);
\draw[pkl,mS,oE] (877.7,0 |- cm.north) -- (885,1129) -- (909,1129) -- (914,1135) -- (us.west |- 0,1135);
\draw[cyl,oS,mE] (us.west |- 0,1121.6) -- (1150,1121.6) -- (829,1446) -- (829,0 |- wh.north);
\draw[cyl,oS,mE] (1219,0 |- us.south) -- (1219,1303) -- (1207,1303) -- (890,1616) -- (lh.east |- 0,1616);
\draw[cyl,oS,mE] (1351,0 |- us.south) -- (1351,1303) -- (900,1757.6) -- (885,1762) -- (856.7,1790) -- (856.7,0 |- pls.north);
\draw[cyl,oS,mE] (1380,0 |- us.south) -- (1380,0 |- pl.north);
\draw[cyl,oS,mE] (1386,0 |- us.south) -- (1386,1323) -- (1764,1701) -- (1764,0 |- crs.north);
\draw[cyl,oS,oE] (us.east |- 0,1282) -- (1558,1282) -- (1739.5,1468.5) -- (1980,1468.5) -- (2068.6,1560.6) -- (co.west |- 0,1560.6);
\draw[pkl,oS,mE] (us.east |- 0,1254) -- (1558,1256) -- (1776,1474) -- (1776,0 |- cum.north);
\draw[pkl,oS,mE] (us.east |- 0,1122) -- (1847.5,1122) -- (1965,1240) -- (1965,0 |- plh.north);
\draw[cyl,mS,oE] (661.4,0 |- cm.south) -- (661.4,1350) -- (443,1568) -- (443,0 |- ct.north);
\draw[pkl,mS,oE] (wh.west |- 0,1580) -- (625,1580) -- (600,1600) -- (425,1775) -- (425,0 |- ct.north);
\draw[pkl,mS,oE] (675,0 |- lh.south) -- (675,1760) -- (655,1784) -- (630,1784) -- (437,1977) -- (437,0 |- ct.north);
\end{pgfonlayer}
\end{tikzpicture}
\end{document}
